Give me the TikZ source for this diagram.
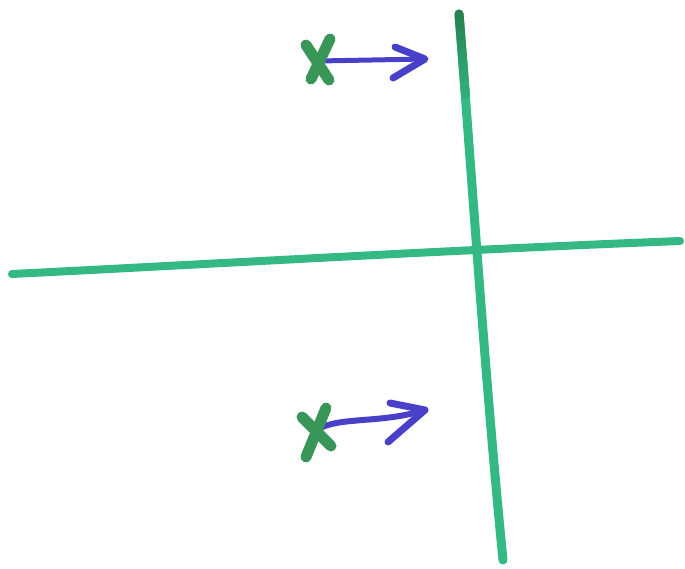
\documentclass[tikz,border=0pt]{standalone}
\usepackage{tikz}
\usetikzlibrary{calc}
\definecolor{axisgreen}{RGB}{52,184,132}
\definecolor{darkgreen}{RGB}{38,130,80}
\definecolor{crossgreen}{RGB}{56,150,88}
\definecolor{penblue}{RGB}{72,64,200}

\begin{document}
\begin{tikzpicture}[
  x=1pt, y=-1pt,
  axis/.style={axisgreen, line width=8pt, line cap=round},
  cross/.style={crossgreen, line width=11pt, line cap=round},
  push/.style={penblue, line width=6pt, line cap=round, line join=round},
]
\useasboundingbox (0,0) rectangle (685,568);
% ---- axes ----
\draw[axis] (12,274) .. controls (250,262) and (450,250) .. (680,241);
\draw[axis, line width=9pt] (459,14) .. controls (470,150) and (485,380) .. (503,560);
% darker start of the vertical stroke
\foreach \i in {0,...,7}{
  \pgfmathsetmacro{\mix}{100-11*\i}
  \draw[darkgreen!\mix!axisgreen, line width=9pt, line cap=round]
    (459+0.8*\i,14+10*\i) -- (459.8+0.8*\i,24+10*\i);
}
% ---- upper cross and arrow ----
\coordinate (xa) at (318,61);
\coordinate (ta) at (425,59);
\draw[push, line width=5pt] (xa) -- (ta);
\draw[push, line width=7pt] ($(ta)+(-30,-12)$) -- (ta) -- ($(ta)+(-32,19)$);
\draw[cross] (306,45) -- (329,80);
\draw[cross] (330,39) -- (311,79);
% ---- lower cross and arrow ----
\coordinate (xb) at (316,430);
\coordinate (tb) at (425,410);
\draw[push] (xb) .. controls (340,416) and (380,424) .. (tb);
\draw[push, line width=7pt] ($(tb)+(-35,-7)$) -- (tb) -- ($(tb)+(-37,32)$);
\draw[cross] (302,417) -- (331,446);
\draw[cross] (326,408) -- (306,457);
\end{tikzpicture}
\end{document}
